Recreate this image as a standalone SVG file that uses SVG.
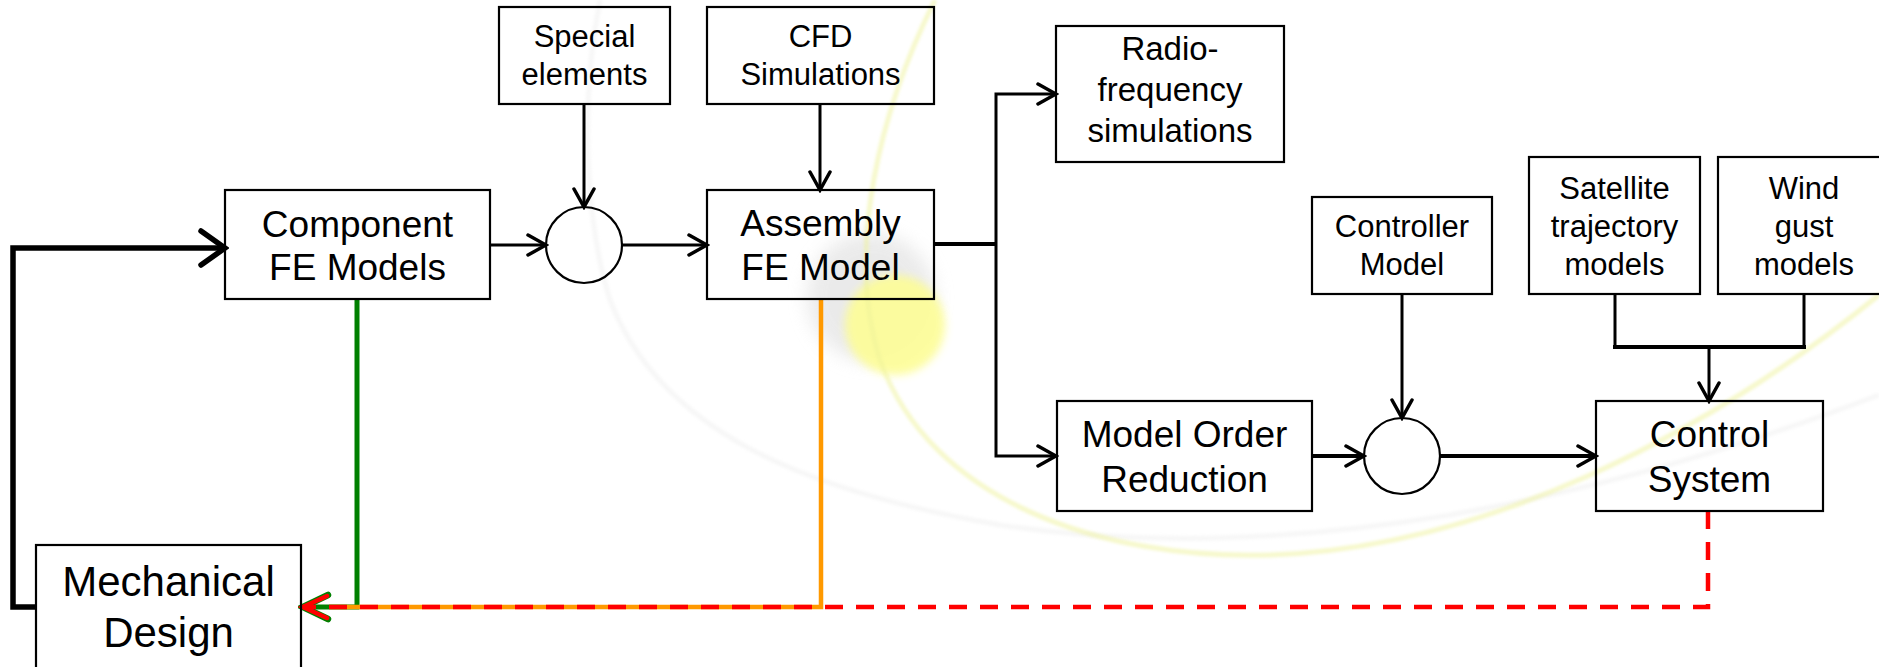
<svg xmlns="http://www.w3.org/2000/svg" width="1879" height="667" viewBox="0 0 1879 667">
  <style>
    .box { fill: none; stroke: #000; stroke-width: 2.2; }
    .ring { fill: none; stroke: #000; stroke-width: 2.2; }
    .t { font-family: "Liberation Sans", Arial, sans-serif; fill: #000; text-anchor: middle; }
    .big { font-size: 37px; }
    .mid { font-size: 33px; }
    .sm { font-size: 31px; }
    .mech { font-size: 42px; }
    .wire { fill: none; stroke: #000; stroke-width: 3; }
    .wire4 { fill: none; stroke: #000; stroke-width: 4; }
    .feedback { fill: none; stroke: #000; stroke-width: 5.5; }
  </style>
  <defs>
    <marker id="arr" viewBox="0 0 24 24" refX="21" refY="12" markerWidth="24" markerHeight="24" markerUnits="userSpaceOnUse" orient="auto">
      <path d="M3,2 L21,12 L3,22" fill="none" stroke="#000" stroke-width="3.5" stroke-linecap="round" stroke-linejoin="miter"/>
    </marker>
    <marker id="arrBig" viewBox="0 0 32 40" refX="28" refY="20" markerWidth="32" markerHeight="40" markerUnits="userSpaceOnUse" orient="auto">
      <path d="M4,3 L28,20 L4,37" fill="none" stroke="#000" stroke-width="5.5" stroke-linecap="round"/>
    </marker>
    <marker id="arrGreen" viewBox="0 0 34 34" refX="29" refY="17" markerWidth="34" markerHeight="34" markerUnits="userSpaceOnUse" orient="auto">
      <path d="M4,5 L29,17 L4,29" fill="none" stroke="#008000" stroke-width="6.5" stroke-linecap="round"/>
    </marker>
    <marker id="arrRed" viewBox="0 0 34 34" refX="29" refY="17" markerWidth="34" markerHeight="34" markerUnits="userSpaceOnUse" orient="auto">
      <path d="M5,6 L29,17 L5,28" fill="none" stroke="#ff0000" stroke-width="4.5" stroke-linecap="round"/>
    </marker>
    <filter id="soft" x="-50%" y="-50%" width="200%" height="200%">
      <feGaussianBlur stdDeviation="9"/>
    </filter>
    <filter id="softSun" x="-50%" y="-50%" width="200%" height="200%">
      <feGaussianBlur stdDeviation="4"/>
    </filter>
    <filter id="softLine" x="-10%" y="-10%" width="120%" height="120%">
      <feGaussianBlur stdDeviation="1.5"/>
    </filter>
  </defs>

  <rect width="1879" height="667" fill="#fff"/>

  <!-- faint orbit watermark behind the diagram -->
  <g id="watermark">
    <path d="M600,0 C580,100 585,220 610,300 C660,430 800,490 1000,525 C1150,548 1300,540 1450,515 C1620,485 1760,440 1879,395" fill="none" stroke="#d8d8d8" stroke-width="5" opacity="0.2" filter="url(#softLine)"/>
    <circle cx="871" cy="297" r="64" fill="#e4e4e4" opacity="0.75" filter="url(#soft)"/>
    <circle cx="895" cy="325" r="50" fill="#fdfd96" opacity="0.9" filter="url(#softSun)"/>
    <path d="M935,0 C880,110 845,250 880,360 C930,500 1100,560 1270,555 C1480,548 1700,440 1879,295" fill="none" stroke="#eef29a" stroke-width="5" opacity="0.5" filter="url(#softLine)"/>
  </g>

  <g id="connectors">
    <!-- feedback from mechanical design to component models -->
    <path class="feedback" d="M36,607 H13 V248 H225" marker-end="url(#arrBig)"/>
    <path class="wire" d="M490,245 H546" marker-end="url(#arr)"/>
    <path class="wire" d="M584,104 V207" marker-end="url(#arr)"/>
    <path class="wire" d="M622,245 H707" marker-end="url(#arr)"/>
    <path class="wire" d="M820,104 V190" marker-end="url(#arr)"/>
    <path class="wire4" d="M934,244 H996"/>
    <path class="wire" d="M996,244 V94 H1056" marker-end="url(#arr)"/>
    <path class="wire" d="M996,244 V456 H1056" marker-end="url(#arr)"/>
    <path class="wire4" d="M1312,456 H1364" marker-end="url(#arr)"/>
    <path class="wire" d="M1402,294 V418" marker-end="url(#arr)"/>
    <path class="wire4" d="M1440,456 H1596" marker-end="url(#arr)"/>
    <path class="wire" d="M1615,294 V347"/>
    <path class="wire" d="M1804,294 V347"/>
    <path class="wire4" d="M1613,347 H1806"/>
    <path class="wire" d="M1709,347 V401" marker-end="url(#arr)"/>
    <!-- return paths to mechanical design -->
    <path d="M357,299 V607 H303" fill="none" stroke="#008000" stroke-width="5" marker-end="url(#arrGreen)"/>
    <path d="M821,299 V607 H330" fill="none" stroke="#ff9900" stroke-width="4.5"/>
    <path d="M1708,511 V607 H303" fill="none" stroke="#ff0000" stroke-width="4.5" stroke-dasharray="18 13" marker-end="url(#arrRed)"/>
  </g>

  <g id="component-fe">
    <rect class="box" x="225" y="190" width="265" height="109"/>
    <text class="t big" x="357.5" y="237">Component</text>
    <text class="t big" x="357.5" y="280">FE Models</text>
  </g>

  <g id="special-elements">
    <rect class="box" x="499" y="7" width="171" height="97"/>
    <text class="t sm" x="584.5" y="47">Special</text>
    <text class="t sm" x="584.5" y="85">elements</text>
  </g>

  <g id="cfd">
    <rect class="box" x="707" y="7" width="227" height="97"/>
    <text class="t sm" x="820.5" y="47">CFD</text>
    <text class="t sm" x="820.5" y="85">Simulations</text>
  </g>

  <g id="junction-fe">
    <circle class="ring" cx="584" cy="245" r="38"/>
  </g>

  <g id="assembly-fe">
    <rect class="box" x="707" y="190" width="227" height="109"/>
    <text class="t big" x="820.5" y="236">Assembly</text>
    <text class="t big" x="820.5" y="280">FE Model</text>
  </g>

  <g id="radio-frequency">
    <rect class="box" x="1056" y="26" width="228" height="136"/>
    <text class="t mid" x="1170" y="60">Radio-</text>
    <text class="t mid" x="1170" y="101">frequency</text>
    <text class="t mid" x="1170" y="142">simulations</text>
  </g>

  <g id="model-order-reduction">
    <rect class="box" x="1057" y="401" width="255" height="110"/>
    <text class="t big" x="1184.5" y="447">Model Order</text>
    <text class="t big" x="1184.5" y="492">Reduction</text>
  </g>

  <g id="controller-model">
    <rect class="box" x="1312" y="197" width="180" height="97"/>
    <text class="t sm" x="1402" y="237">Controller</text>
    <text class="t sm" x="1402" y="275">Model</text>
  </g>

  <g id="junction-control">
    <circle class="ring" cx="1402" cy="456" r="38"/>
  </g>

  <g id="satellite-trajectory">
    <rect class="box" x="1529" y="157" width="171" height="137"/>
    <text class="t sm" x="1614.5" y="199">Satellite</text>
    <text class="t sm" x="1614.5" y="237">trajectory</text>
    <text class="t sm" x="1614.5" y="275">models</text>
  </g>

  <g id="wind-gust">
    <rect class="box" x="1718" y="157" width="172" height="137"/>
    <text class="t sm" x="1804" y="199">Wind</text>
    <text class="t sm" x="1804" y="237">gust</text>
    <text class="t sm" x="1804" y="275">models</text>
  </g>

  <g id="control-system">
    <rect class="box" x="1596" y="401" width="227" height="110"/>
    <text class="t big" x="1709.5" y="447">Control</text>
    <text class="t big" x="1709.5" y="492">System</text>
  </g>

  <g id="mechanical-design">
    <rect class="box" x="36" y="545" width="265" height="140"/>
    <text class="t mech" x="168.5" y="596">Mechanical</text>
    <text class="t mech" x="168.5" y="647">Design</text>
  </g>
</svg>
